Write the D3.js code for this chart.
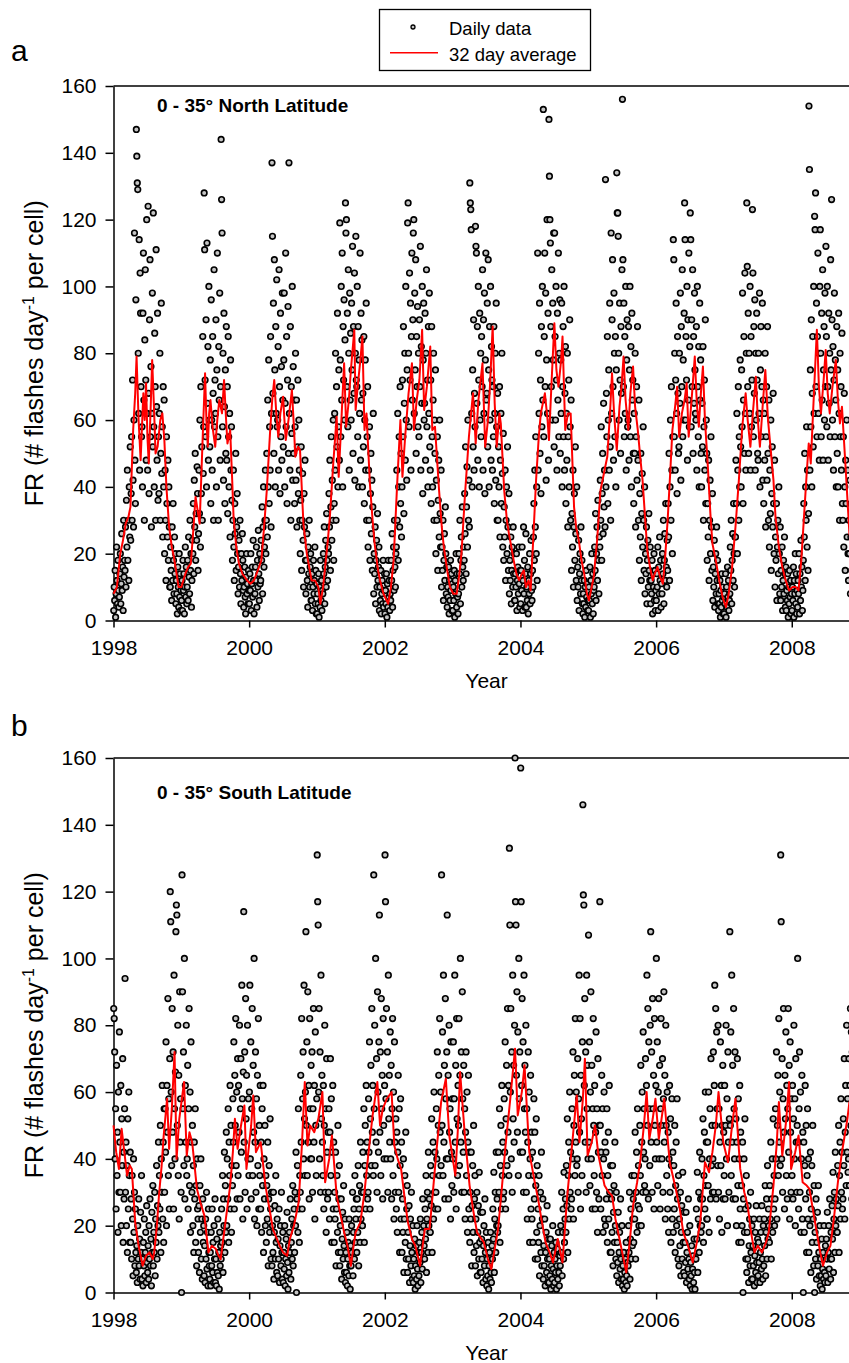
<!DOCTYPE html>
<html>
<head>
<meta charset="utf-8">
<script src="https://cdn.jsdelivr.net/npm/d3@7"></script>
<style>
    body { margin: 0; background: #fff; }
    text { font-family: "Liberation Sans", Arial, sans-serif; }
</style>
</head>
<body>
<div class="graph_container"></div>
<script>
//^ DATA //
const years = [1998, 1999, 2000, 2001, 2002, 2003, 2004, 2005, 2006, 2007, 2008];
const xTicks = [1998, 2000, 2002, 2004, 2006, 2008];
const yTicks = [0, 20, 40, 60, 80, 100, 120, 140, 160];

// daily flash rate, 0-35 N, 12 readings per month, Jan..Dec, one row per year
const northDaily = [
    [3,10,6,15,1,8,22,12,5,18,9,4, 7,14,20,5,11,26,9,16,3,30,13,18, 15,28,10,36,22,45,18,30,12,40,25,52, 24,38,55,30,72,42,28,60,116,48,35,96, 147,139,131,129,80,62,114,45,104,92,70,55, 58,40,92,110,66,30,84,105,72,48,120,62, 45,124,68,38,90,108,55,76,28,62,98,52, 122,58,40,86,70,30,111,64,48,92,36,55, 38,62,80,30,50,95,44,58,25,70,40,66, 20,45,30,12,55,35,25,48,18,40,28,10, 10,22,15,6,28,12,35,18,8,25,14,20, 5,12,8,2,16,10,4,20,7,14,3,9],
    [6,12,3,18,9,14,2,10,22,7,16,5, 10,18,6,25,13,8,30,15,20,4,12,24, 20,35,14,42,28,50,18,32,24,46,38,15, 26,45,32,60,22,70,38,52,30,85,44,58, 128,111,72,55,90,40,113,65,82,48,100,60, 52,78,35,96,60,45,85,68,30,105,58,72, 62,90,40,75,110,55,30,82,66,98,48,70, 144,126,116,58,80,42,92,64,35,75,50,88, 48,70,32,85,55,40,62,25,78,45,58,36, 18,30,45,22,12,35,26,50,15,28,38,20, 8,16,24,10,30,14,5,20,12,26,18,9, 4,10,16,7,2,13,20,8,11,5,15,9],
    [5,14,9,20,3,11,16,7,24,12,2,8, 8,16,12,22,4,18,10,27,14,6,20,11, 12,24,18,34,8,28,40,16,22,30,45,20, 30,50,25,66,40,78,35,58,45,85,28,62, 137,115,68,95,50,108,75,40,88,62,102,58, 60,82,45,105,70,38,92,55,76,48,98,66, 52,78,98,40,65,110,58,85,35,72,94,50, 137,62,45,88,30,70,56,100,42,76,50,66, 35,58,80,42,66,28,52,72,38,60,45,30, 20,36,52,15,30,44,24,10,38,28,48,18, 8,18,26,12,4,22,14,30,10,16,20,6, 6,14,3,10,18,8,12,22,5,15,2,11],
    [2,8,5,14,1,10,4,18,6,12,3,9, 8,20,14,28,5,16,24,10,32,18,12,22, 20,38,28,48,15,34,55,24,42,30,60,18, 35,62,45,80,30,70,52,92,40,58,75,48, 119,78,55,100,66,110,40,88,72,96,60,84, 125,116,120,70,92,58,105,80,45,98,66,86, 60,95,75,112,50,88,68,104,42,80,115,72, 70,100,55,88,40,78,62,110,48,92,66,84, 40,68,52,85,35,60,78,45,95,30,55,70, 22,45,30,58,18,38,50,26,42,15,34,62, 8,20,14,28,5,18,24,10,32,12,16,22, 3,10,6,15,2,8,12,5,18,4,9,14],
    [2,9,5,14,1,11,4,18,7,12,3,8, 6,18,12,26,4,15,22,9,30,16,10,20, 22,45,30,62,18,40,55,28,70,35,50,25, 40,72,55,88,32,65,80,48,100,60,42,75, 119,125,80,58,104,72,95,45,85,110,66,90, 116,120,62,98,75,108,50,85,70,94,58,80, 55,90,70,112,45,82,65,100,38,78,95,60, 65,92,48,80,105,58,72,40,88,62,98,52, 45,72,35,88,55,40,66,80,30,60,50,75, 20,42,30,55,15,36,48,25,60,32,22,45, 10,22,15,30,6,18,26,12,34,20,8,16, 4,10,7,16,2,12,6,18,9,14,3,11],
    [3,10,6,15,1,12,8,20,4,14,7,2, 8,20,14,30,5,18,25,10,34,16,12,22, 18,38,26,52,14,34,46,22,60,30,42,28, 131,125,123,117,62,40,75,52,90,45,68,58, 118,112,110,65,88,48,100,72,40,92,60,80, 55,85,70,105,45,90,62,98,38,78,110,66, 68,95,52,108,75,40,88,60,100,48,82,72, 45,70,55,88,35,62,80,42,95,58,30,68, 30,52,40,70,25,48,62,35,80,44,22,56, 18,34,25,45,12,30,40,20,52,28,15,38, 8,18,12,25,5,15,22,10,28,14,20,6, 6,14,10,20,3,12,16,8,22,11,4,15],
    [5,15,9,22,3,12,28,8,18,4,14,26, 4,10,6,16,2,12,8,20,5,14,24,9, 6,15,10,25,35,18,45,28,55,20,40,12, 110,45,80,62,95,50,72,38,88,58,100,66, 153,55,85,110,70,98,42,78,120,62,92,48, 150,133,120,113,88,70,105,60,95,78,116,52, 116,85,60,100,72,45,92,66,110,55,80,96, 50,78,62,95,40,70,88,55,100,45,68,82, 35,62,48,80,28,55,72,40,90,58,30,66, 15,32,22,45,10,28,38,18,52,26,12,40, 6,16,10,24,3,14,20,8,28,12,18,5, 2,8,5,12,1,10,4,15,7,11,3,6],
    [3,10,6,16,1,12,8,20,5,14,2,9, 10,22,15,32,6,20,28,12,36,18,8,25, 22,42,30,58,18,38,50,26,65,34,45,28, 132,40,68,55,85,35,60,75,45,95,52,30, 116,62,90,108,70,48,98,80,55,85,40,75, 134,122,122,115,80,60,95,72,50,88,68,105, 156,108,70,95,55,85,62,100,45,78,90,58, 60,88,48,75,100,55,82,40,92,66,72,50, 35,62,50,80,28,55,70,42,88,48,30,66, 18,38,25,50,12,32,44,22,58,30,15,40, 8,20,14,28,5,18,24,10,32,15,12,22, 5,12,8,18,2,14,10,20,6,15,3,9],
    [6,14,10,22,3,16,8,25,12,18,4,11, 8,20,14,30,5,18,26,12,35,16,10,24, 15,35,25,50,12,40,60,30,70,45,20,55, 114,108,55,80,45,72,95,62,38,85,68,50, 52,80,65,98,42,88,70,105,55,78,60,92, 125,114,60,85,72,100,48,90,66,110,58,82, 122,114,58,90,70,105,50,85,65,98,75,62, 60,88,45,100,70,55,82,40,95,66,78,50, 40,65,52,82,30,58,72,45,90,35,60,50, 18,35,25,48,12,30,42,20,55,28,15,38, 6,16,10,24,4,14,20,8,28,12,18,5, 3,8,5,12,1,9,4,14,6,10,2,7],
    [2,8,5,14,1,10,4,16,7,12,3,6, 8,22,15,30,5,18,26,12,35,20,10,25, 25,48,35,62,20,45,70,30,55,40,78,52, 40,75,58,98,35,66,85,50,104,62,45,80, 125,106,70,92,50,80,62,100,45,85,58,72, 123,104,55,88,68,96,45,80,60,92,72,50, 48,80,62,98,40,75,88,55,70,95,42,66, 35,62,48,80,28,55,70,42,88,50,30,66, 22,45,32,60,15,38,52,28,68,35,20,48, 10,25,18,35,6,22,30,14,40,20,8,28, 6,15,10,22,3,12,18,8,25,14,4,16, 3,9,6,14,1,10,5,15,7,12,2,8],
    [3,10,6,16,1,12,8,20,5,14,2,9, 4,12,8,20,2,14,6,24,10,16,3,9, 18,35,25,50,12,40,30,58,22,45,15,32, 154,135,45,75,58,90,40,68,85,52,100,62, 121,117,128,70,95,55,85,110,62,80,48,100, 117,80,55,92,66,105,48,75,88,60,98,70, 112,85,58,100,70,48,92,65,80,55,108,75, 126,90,60,82,45,72,98,55,78,66,40,88, 50,75,40,92,62,30,80,55,70,45,86,35, 30,55,22,68,40,15,48,35,60,25,45,20, 12,30,20,42,8,25,35,15,48,22,10,28, 8,20,12,30,5,18,25,10,35,15,22,6]
];

// daily flash rate, 0-35 S
const southDaily = [
    [85,82,72,40,55,25,68,35,48,18,60,30, 78,45,30,62,20,52,38,70,15,42,28,55, 94,30,45,20,38,12,52,25,60,35,15,42, 15,28,10,35,22,5,40,18,30,8,25,12, 6,14,3,20,10,28,8,16,4,24,12,35, 4,10,2,15,8,22,5,12,18,3,26,9, 6,14,4,20,10,28,8,16,2,24,12,32, 8,18,12,30,5,22,15,38,10,26,20,45, 18,35,25,50,12,40,30,62,22,45,15,55, 30,55,42,75,20,62,48,88,35,58,25,70, 120,111,60,38,85,48,72,25,95,55,40,66, 108,116,113,50,80,35,65,22,90,45,58,30],
    [0,125,90,55,72,38,100,28,62,45,80,35, 40,68,25,55,85,32,60,18,75,45,30,50, 20,38,12,45,28,55,15,32,8,40,25,22, 12,26,6,32,18,40,10,22,4,28,15,20, 5,14,3,22,10,30,7,18,2,25,12,8, 4,12,2,18,8,25,6,15,3,20,10,28, 3,10,2,16,6,22,5,12,1,18,8,14, 10,25,15,35,6,28,20,42,12,32,18,48, 20,40,28,55,15,45,35,62,25,50,18,38, 32,58,45,75,25,65,50,82,38,60,28,70, 35,62,48,80,28,55,70,42,92,58,22,66, 114,45,72,30,88,52,65,25,80,40,58,35],
    [60,92,40,75,28,55,85,35,68,48,100,22, 45,72,30,58,20,65,38,82,25,50,35,62, 25,45,18,55,32,62,12,40,28,50,20,35, 15,32,22,45,8,28,38,18,52,25,10,30, 8,20,12,30,4,18,26,10,35,15,6,22, 5,16,10,25,3,14,20,8,30,12,4,18, 3,12,7,20,2,10,16,5,24,9,1,14, 6,18,12,28,4,15,22,10,32,8,20,25, 12,30,20,42,0,28,38,18,55,25,15,35, 30,65,45,82,25,58,72,40,92,52,35,60, 108,50,75,35,90,45,62,28,82,55,40,68, 40,72,30,55,85,45,62,22,78,50,35,58],
    [131,117,110,60,85,40,72,30,95,52,65,45, 35,62,25,50,80,30,55,18,70,42,28,48, 30,55,22,48,70,35,58,15,42,62,25,45, 15,30,22,42,8,25,35,18,50,12,28,38, 8,20,12,28,4,16,24,10,32,14,6,22, 3,12,6,18,2,10,15,5,22,8,1,14, 8,20,12,30,5,18,25,10,35,15,22,28, 12,28,18,38,8,25,32,15,45,22,30,20, 20,42,30,55,15,38,50,25,62,35,45,28, 30,58,42,75,25,52,68,38,85,48,62,35, 125,55,80,38,100,45,70,30,90,60,42,75, 113,48,72,35,88,55,65,28,82,50,40,62],
    [131,117,58,85,40,72,30,95,52,65,45,78, 40,68,28,55,82,35,60,22,75,45,30,52, 25,48,18,42,65,30,55,12,38,58,22,45, 12,28,18,40,6,22,35,15,48,10,25,32, 6,18,10,26,3,14,22,8,30,12,4,20, 3,10,5,16,1,8,14,4,20,7,2,12, 5,15,9,22,3,12,18,7,28,10,20,14, 10,25,16,35,6,22,30,12,42,20,28,18, 18,38,26,52,12,35,45,22,60,30,42,25, 30,55,40,72,25,50,65,35,82,48,60,38, 125,50,78,35,95,45,68,28,88,58,40,72, 113,40,65,28,80,48,55,22,75,42,32,58],
    [40,75,30,58,95,45,68,25,82,52,35,62, 50,82,38,65,100,45,72,30,90,58,42,68, 30,55,22,48,72,35,60,18,45,65,25,42, 15,30,22,42,8,26,38,18,50,12,28,35, 8,22,14,30,5,18,26,10,36,15,6,24, 6,16,10,24,3,14,20,8,28,12,4,18, 2,10,5,15,1,8,12,4,18,6,3,14, 10,25,16,36,6,22,30,12,42,20,28,18, 20,42,30,55,15,38,50,25,62,35,45,28, 30,58,42,75,25,52,68,38,85,48,62,35, 133,110,60,85,40,72,30,95,52,68,45,80, 160,117,110,65,90,48,78,35,100,58,72,42],
    [157,117,62,88,42,75,30,95,55,68,48,80, 30,55,22,45,72,35,60,15,40,65,25,48, 22,42,15,35,58,28,48,10,32,52,18,38, 10,25,15,35,5,20,30,12,42,8,22,28, 4,14,8,22,2,12,18,6,26,10,3,16, 3,10,5,16,1,8,14,4,20,7,2,12, 3,10,6,15,1,8,13,4,18,6,2,11, 8,20,12,30,5,18,25,10,36,15,22,28, 18,38,26,52,12,35,45,22,60,30,42,25, 28,55,40,72,22,50,65,35,82,45,60,38, 40,70,30,58,95,48,82,25,65,52,35,75, 146,119,116,62,88,45,72,30,95,55,68,40],
    [107,45,75,32,60,90,40,68,25,55,82,50, 35,62,25,48,78,30,55,18,70,42,28,50, 117,50,25,42,65,35,55,18,40,60,22,45, 20,42,28,55,15,35,48,22,62,30,12,38, 12,28,18,38,8,24,32,15,45,20,10,30, 5,15,9,24,3,12,18,7,28,10,4,20, 2,8,4,12,1,6,10,3,15,5,2,9, 8,20,12,30,4,16,25,10,35,14,22,28, 15,35,22,48,10,30,42,18,55,26,38,20, 25,50,35,68,20,45,60,30,78,42,55,32, 40,70,30,62,95,50,85,28,75,55,38,80, 108,45,72,30,88,55,65,25,82,50,40,62],
    [100,45,75,32,60,88,40,68,25,55,82,50, 40,70,30,58,90,45,65,22,80,50,35,60, 25,48,18,40,62,30,52,15,38,58,22,42, 18,38,25,50,12,32,45,20,58,28,10,35, 8,22,14,30,5,18,26,10,36,15,6,24, 5,15,9,24,3,12,18,7,28,10,4,20, 2,9,5,14,1,7,11,3,16,6,1,10, 10,25,16,36,6,22,30,12,42,20,28,18, 20,40,28,52,15,35,48,25,60,32,45,22, 22,45,32,60,18,40,55,28,70,38,50,30, 40,72,30,62,92,50,85,28,78,55,38,80, 30,55,22,45,75,38,62,18,50,68,28,48],
    [35,62,28,50,80,40,58,20,72,45,30,52, 108,50,78,35,95,45,68,28,85,55,40,72, 28,52,20,45,70,32,58,15,40,62,25,48, 15,32,20,45,0,28,40,18,52,25,10,35, 6,18,10,26,3,14,22,8,30,12,4,20, 4,14,8,22,2,11,18,6,26,9,3,16, 5,15,9,22,3,12,18,7,26,10,4,20, 8,22,14,32,5,18,28,10,38,16,25,20, 15,32,22,45,10,28,40,18,52,25,35,20, 28,55,40,72,22,50,65,35,82,45,60,38, 131,111,40,70,30,58,85,48,25,65,52,78, 35,62,28,55,85,42,68,22,75,48,30,58],
    [35,62,28,52,80,40,58,20,70,45,30,50, 100,45,25,55,72,30,60,18,40,65,22,48, 0,45,18,38,62,28,50,12,35,55,22,40, 12,30,20,42,6,25,38,15,50,22,8,32, 0,18,10,28,4,15,24,8,32,12,5,20, 2,10,5,16,1,7,12,4,20,6,3,14, 5,16,10,24,3,12,20,7,28,10,4,18, 10,26,16,36,6,22,30,12,42,20,28,18, 18,38,26,50,12,35,45,22,58,30,42,25, 28,52,38,70,22,48,62,32,80,42,58,36, 40,70,32,62,85,50,78,28,72,55,38,68, 40,65,30,58,80,45,70,25,60,50,35,55]
];

// 32 day running average [decimal year, value]
const northAvg = [
    [1998.00,8],[1998.05,10],[1998.10,20],[1998.14,24],[1998.18,29],[1998.22,31],[1998.25,34],[1998.29,57],[1998.32,68],[1998.34,79],[1998.37,60],[1998.40,48],[1998.42,58],[1998.44,68],[1998.46,60],[1998.48,71],[1998.50,55],[1998.52,47],[1998.55,65],[1998.57,78],[1998.60,62],[1998.62,50],[1998.65,52],[1998.69,60],[1998.72,62],[1998.75,54],[1998.78,40],[1998.82,28],[1998.86,22],[1998.89,19],[1998.93,14],[1998.96,10],
    [1999.00,10],[1999.03,12],[1999.06,14],[1999.10,16],[1999.14,17],[1999.18,28],[1999.21,37],[1999.24,33],[1999.27,29],[1999.31,52],[1999.35,74],[1999.37,60],[1999.39,52],[1999.41,62],[1999.43,66],[1999.46,58],[1999.50,52],[1999.53,60],[1999.56,66],[1999.60,62],[1999.63,72],[1999.66,60],[1999.68,53],[1999.72,57],[1999.75,42],[1999.77,31],[1999.81,22],[1999.85,17],[1999.90,14],[1999.97,12],
    [2000.02,11],[2000.07,12],[2000.11,14],[2000.18,18],[2000.22,28],[2000.26,39],[2000.31,57],[2000.34,66],[2000.37,72],[2000.40,62],[2000.43,55],[2000.46,62],[2000.50,67],[2000.52,60],[2000.54,54],[2000.58,60],[2000.63,69],[2000.66,58],[2000.68,49],[2000.72,52],[2000.75,51],[2000.80,29],[2000.85,20],[2000.92,12],[2000.97,12],
    [2001.02,10],[2001.05,5],[2001.09,10],[2001.12,16],[2001.16,24],[2001.19,31],[2001.24,47],[2001.29,61],[2001.32,43],[2001.36,60],[2001.40,77],[2001.43,58],[2001.47,66],[2001.50,75],[2001.55,87],[2001.57,63],[2001.60,70],[2001.64,78],[2001.67,85],[2001.70,57],[2001.73,62],[2001.78,41],[2001.82,30],[2001.85,23],[2001.90,15],[2001.93,12],[2001.98,8],
    [2002.05,5],[2002.09,10],[2002.13,18],[2002.18,40],[2002.23,60],[2002.26,43],[2002.30,55],[2002.35,68],[2002.40,77],[2002.43,57],[2002.47,66],[2002.51,72],[2002.55,87],[2002.58,63],[2002.62,70],[2002.67,82],[2002.70,57],[2002.74,58],[2002.80,39],[2002.84,28],[2002.87,22],[2002.92,15],[2002.96,10],
    [2003.01,8],[2003.06,8],[2003.10,14],[2003.13,20],[2003.18,37],[2003.24,55],[2003.30,68],[2003.34,53],[2003.38,66],[2003.44,77],[2003.48,52],[2003.52,60],[2003.55,70],[2003.59,88],[2003.62,65],[2003.65,52],[2003.69,62],[2003.71,59],[2003.76,39],[2003.80,30],[2003.83,26],[2003.90,18],[2003.94,14],[2003.98,12],
    [2004.02,14],[2004.05,15],[2004.08,10],[2004.12,12],[2004.15,9],[2004.19,25],[2004.23,42],[2004.27,55],[2004.30,62],[2004.36,68],[2004.40,60],[2004.42,54],[2004.46,72],[2004.50,89],[2004.53,75],[2004.56,70],[2004.60,78],[2004.62,85],[2004.66,57],[2004.70,62],[2004.74,62],[2004.79,34],[2004.82,28],[2004.86,24],[2004.90,18],[2004.94,14],[2004.98,8],
    [2005.01,6],[2005.05,10],[2005.08,13],[2005.13,24],[2005.18,39],[2005.23,44],[2005.28,49],[2005.32,62],[2005.35,74],[2005.38,62],[2005.42,51],[2005.46,64],[2005.49,70],[2005.52,79],[2005.55,66],[2005.59,57],[2005.62,68],[2005.66,76],[2005.69,64],[2005.73,57],[2005.77,48],[2005.80,42],[2005.84,30],[2005.87,21],[2005.91,16],[2005.95,12],[2005.98,14],
    [2006.02,16],[2006.06,13],[2006.10,11],[2006.13,18],[2006.17,30],[2006.21,45],[2006.24,57],[2006.28,64],[2006.31,70],[2006.34,55],[2006.38,62],[2006.42,66],[2006.45,71],[2006.48,55],[2006.53,68],[2006.57,79],[2006.60,65],[2006.63,58],[2006.66,68],[2006.69,76],[2006.72,60],[2006.76,47],[2006.80,32],[2006.83,23],[2006.88,18],[2006.93,12],[2006.98,7],
    [2007.03,4],[2007.07,8],[2007.12,16],[2007.17,28],[2007.22,42],[2007.27,58],[2007.32,68],[2007.35,60],[2007.39,52],[2007.43,63],[2007.47,73],[2007.50,60],[2007.53,52],[2007.57,64],[2007.61,75],[2007.65,60],[2007.69,51],[2007.73,42],[2007.76,31],[2007.81,22],[2007.86,16],[2007.91,12],[2007.96,9],
    [2008.01,10],[2008.06,10],[2008.10,9],[2008.14,18],[2008.18,31],[2008.22,44],[2008.25,53],[2008.28,47],[2008.32,65],[2008.37,87],[2008.40,70],[2008.43,62],[2008.47,72],[2008.50,81],[2008.53,68],[2008.56,62],[2008.60,70],[2008.65,78],[2008.68,66],[2008.71,59],[2008.74,64],[2008.79,47],[2008.85,26],[2008.90,22],[2008.95,20]
];

const southAvg = [
    [1998.00,50],[1998.04,42],[1998.08,37],[1998.12,49],[1998.16,42],[1998.20,35],[1998.24,38],[1998.27,37],[1998.32,21],[1998.37,14],[1998.43,8],[1998.48,11],[1998.53,12],[1998.58,10],[1998.60,12],[1998.64,20],[1998.67,29],[1998.71,38],[1998.74,47],[1998.79,58],[1998.82,43],[1998.86,55],[1998.90,72],[1998.93,40],[1998.97,52],
    [1999.04,63],[1999.08,41],[1999.12,48],[1999.16,45],[1999.23,31],[1999.28,27],[1999.34,23],[1999.40,12],[1999.45,14],[1999.51,13],[1999.55,11],[1999.58,10],[1999.65,21],[1999.72,32],[1999.76,42],[1999.79,52],[1999.83,43],[1999.88,50],[1999.93,56],[1999.96,37],
    [2000.03,50],[2000.06,59],[2000.10,42],[2000.17,45],[2000.24,32],[2000.30,25],[2000.35,19],[2000.45,14],[2000.50,12],[2000.56,11],[2000.60,16],[2000.66,20],[2000.73,27],[2000.78,45],[2000.82,63],[2000.86,44],[2000.90,50],[2000.96,48],
    [2001.02,52],[2001.08,60],[2001.12,33],[2001.18,40],[2001.22,47],[2001.29,29],[2001.34,24],[2001.40,18],[2001.45,14],[2001.50,8],[2001.54,14],[2001.57,18],[2001.64,21],[2001.70,30],[2001.75,40],[2001.82,53],[2001.89,63],[2001.93,50],[2001.97,55],
    [2002.03,58],[2002.10,60],[2002.14,44],[2002.19,40],[2002.24,37],[2002.30,27],[2002.34,21],[2002.40,16],[2002.45,14],[2002.52,8],[2002.59,19],[2002.66,19],[2002.70,28],[2002.76,42],[2002.83,57],[2002.90,64],[2002.95,47],
    [2003.04,35],[2003.08,50],[2003.11,66],[2003.18,47],[2003.25,32],[2003.30,25],[2003.36,18],[2003.46,15],[2003.52,10],[2003.57,7],[2003.62,13],[2003.67,19],[2003.72,30],[2003.78,44],[2003.85,58],[2003.92,73],[2003.96,53],
    [2004.02,60],[2004.06,68],[2004.13,42],[2004.22,32],[2004.26,28],[2004.30,23],[2004.37,15],[2004.43,12],[2004.48,9],[2004.55,16],[2004.60,11],[2004.62,9],[2004.69,29],[2004.76,44],[2004.83,59],[2004.87,45],[2004.92,58],[2004.95,70],[2004.99,41],
    [2005.05,45],[2005.10,50],[2005.15,41],[2005.24,32],[2005.30,30],[2005.35,29],[2005.40,22],[2005.45,17],[2005.50,12],[2005.56,6],[2005.61,15],[2005.66,26],[2005.72,33],[2005.77,40],[2005.82,50],[2005.86,60],[2005.90,46],[2005.95,52],[2005.99,58],
    [2006.04,46],[2006.08,52],[2006.12,58],[2006.20,39],[2006.29,31],[2006.35,25],[2006.40,18],[2006.47,14],[2006.54,9],[2006.60,15],[2006.65,21],[2006.72,39],[2006.78,36],[2006.83,42],[2006.88,50],[2006.92,60],[2006.99,45],
    [2007.06,39],[2007.12,50],[2007.17,58],[2007.24,37],[2007.30,30],[2007.35,26],[2007.40,18],[2007.45,12],[2007.50,14],[2007.56,12],[2007.62,15],[2007.66,18],[2007.73,32],[2007.78,45],[2007.81,57],[2007.86,41],[2007.92,52],[2007.96,63],[2007.99,37],
    [2008.05,42],[2008.10,47],[2008.16,33],[2008.22,32],[2008.26,31],[2008.31,25],[2008.36,19],[2008.42,12],[2008.46,8],[2008.52,12],[2008.57,14],[2008.62,22],[2008.68,33],[2008.74,42],[2008.78,47],[2008.82,52],[2008.85,57],[2008.90,55],[2008.95,56]
];

//^ DIMENSIONS //
const W = 849;
const H = 1363;
const xLeft = 113.5;
const xRight = 859.6;

const svg = d3.select(".graph_container").append("svg").attr("width", W).attr("height", H);

const xScale = d3.scaleLinear().domain([1998, 2009]).range([xLeft, xRight]);

// flatten a panel's rows into points at evenly spaced days
const toPoints = (rows) => {
    const pts = [];
    rows.forEach((row, yi) => {
        row.forEach((v, i) => pts.push([years[yi] + (i + 0.5) / row.length, v]));
    });
    return pts;
};

const drawPanel = (top, bottom, daily, avg, title, titleY, letter, letterY) => {
    const yScale = d3.scaleLinear().domain([0, 160]).range([bottom, top]);
    const g = svg.append("g");

    //^ AXES //
    const xAxis = g.append("g")
        .attr("transform", "translate(0," + bottom + ")")
        .call(d3.axisBottom(xScale).tickValues(xTicks).tickFormat(d3.format("d")).tickSize(7).tickPadding(13).tickSizeOuter(0));
    const yAxis = g.append("g")
        .attr("transform", "translate(" + xLeft + ",0)")
        .call(d3.axisLeft(yScale).tickValues(yTicks).tickSize(8).tickPadding(9).tickSizeOuter(0));
    [xAxis, yAxis].forEach((a) => {
        a.attr("font-size", 21).attr("font-family", '"Liberation Sans", Arial, sans-serif');
        a.selectAll("path, line").attr("stroke", "#000").attr("stroke-width", 1.5);
        a.selectAll("text").attr("fill", "#000");
    });

    // top frame
    g.append("line").attr("x1", xLeft).attr("x2", xRight).attr("y1", top).attr("y2", top)
        .attr("stroke", "#000").attr("stroke-width", 1.5);

    //^ DAILY POINTS //
    g.append("g").selectAll("circle")
        .data(toPoints(daily))
        .join("circle")
        .attr("cx", (d) => xScale(d[0]))
        .attr("cy", (d) => yScale(d[1]))
        .attr("r", 2.8)
        .attr("fill", "#c4c4c4")
        .attr("stroke", "#000")
        .attr("stroke-width", 1.6);

    //^ 32 DAY AVERAGE //
    g.append("path")
        .datum(avg)
        .attr("fill", "none")
        .attr("stroke", "#ff0000")
        .attr("stroke-width", 2)
        .attr("stroke-linejoin", "round")
        .attr("d", d3.line().x((d) => xScale(d[0])).y((d) => yScale(d[1])));

    //^ LABELS //
    g.append("text").attr("x", 157).attr("y", titleY).attr("font-size", 19).attr("font-weight", "bold").text(title);

    g.append("text")
        .attr("x", (xLeft + xRight) / 2).attr("y", bottom + 67)
        .attr("text-anchor", "middle").attr("font-size", 21).text("Year");

    g.append("text").attr("x", 11).attr("y", letterY).attr("font-size", 30).text(letter);

    const yl = g.append("text")
        .attr("transform", "translate(43," + (top + bottom) / 2 + ") rotate(-90)")
        .attr("text-anchor", "middle").attr("font-size", 25);
    yl.append("tspan").text("FR (# flashes day");
    yl.append("tspan").attr("dy", -9).attr("font-size", 16).text("-1");
    yl.append("tspan").attr("dy", 9).text(" per cell)");
};

drawPanel(86, 620.5, northDaily, northAvg, "0 - 35\u00b0 North Latitude", 111.5, "a", 60.5);
drawPanel(758, 1292.5, southDaily, southAvg, "0 - 35\u00b0 South Latitude", 799, "b", 736);

//^ LEGEND //
const legend = svg.append("g");
legend.append("rect").attr("x", 379.5).attr("y", 9.5).attr("width", 211).attr("height", 61)
    .attr("fill", "#fff").attr("stroke", "#000").attr("stroke-width", 1.3);
legend.append("circle").attr("cx", 413).attr("cy", 27).attr("r", 2)
    .attr("fill", "#c4c4c4").attr("stroke", "#000").attr("stroke-width", 1.3);
legend.append("line").attr("x1", 390).attr("x2", 438).attr("y1", 52.7).attr("y2", 52.7)
    .attr("stroke", "#ff0000").attr("stroke-width", 1.5);
legend.append("text").attr("x", 449).attr("y", 35).attr("font-size", 18.5).text("Daily data");
legend.append("text").attr("x", 449).attr("y", 61).attr("font-size", 18.5).text("32 day average");
</script>
</body>
</html>
